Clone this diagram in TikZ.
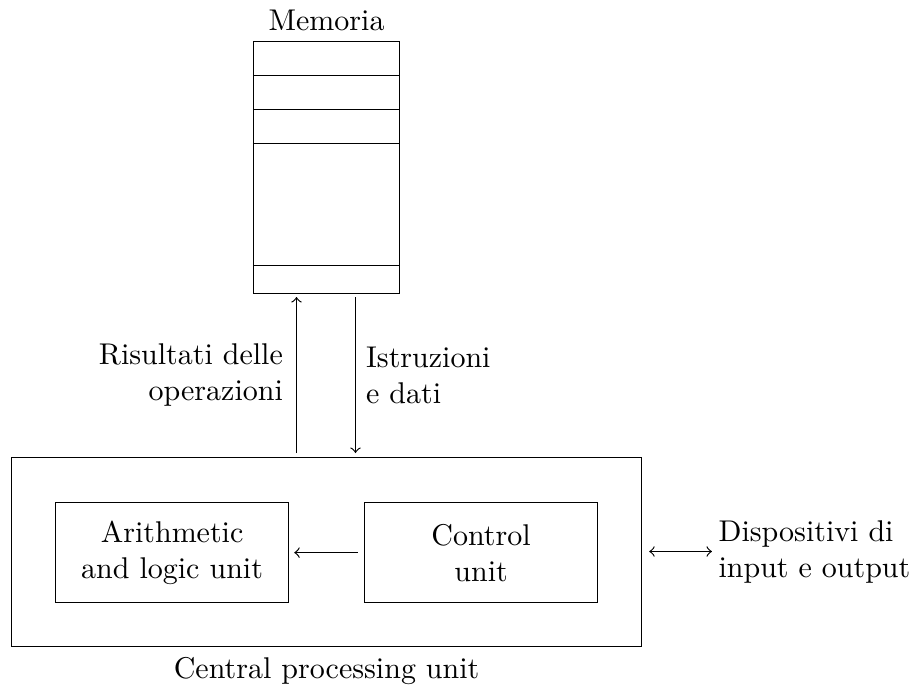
\documentclass[tikz,border=0pt]{standalone}
\usetikzlibrary{calc}
\begin{document}
\begin{tikzpicture}[x=0.3333pt,y=-0.3333pt,
  cell/.style={inner sep=0pt,minimum width=146*0.3333pt},
  unitbox/.style={draw,inner sep=0pt,minimum width=233*0.3333pt,minimum height=100*0.3333pt,align=center,anchor=north west},
  >=to]
\useasboundingbox (0,0) rectangle (909,686);
% Memory
\node[draw,inner sep=0pt,minimum width=146*0.3333pt,minimum height=252*0.3333pt,anchor=north west,
  label={[name=memlab]above:Memoria}] (mem) at (253,41) {};
\node[cell,minimum height=33*0.3333pt,anchor=north] (m1) at (mem.north) {};
\node[cell,minimum height=33*0.3333pt,anchor=north] (m2) at (m1.south) {};
\node[cell,minimum height=33*0.3333pt,anchor=north] (m3) at (m2.south) {};
\node[cell,minimum height=121*0.3333pt,anchor=north] (m4) at (m3.south) {};
\node[cell,minimum height=32*0.3333pt,anchor=north] (m5) at (m4.south) {};
\foreach \c in {m1,m2,m3,m4}{\draw (\c.south west) -- (\c.south east);}
% CPU
\node[draw,inner sep=0pt,minimum width=630*0.3333pt,minimum height=189*0.3333pt,anchor=north west,
  label={[name=cpulab]below:Central processing unit}] (cpu) at (11,457) {};
\node[unitbox] (alu) at (55,502) {Arithmetic\\and logic unit};
\node[unitbox] (cu) at (364,502) {Control\\unit};
\node[inner sep=2pt,align=left,anchor=west] (dev) at (712,551.5) {Dispositivi di\\input e output};
% memory arrows
\coordinate (mu) at (296.5,293);
\coordinate (md) at (355.5,293);
\coordinate (cu1) at (296.5,457);
\coordinate (cd) at (355.5,457);
\draw[->,shorten <=4*0.3333pt,shorten >=4*0.3333pt] (cu1) -- node[left,align=right,xshift=-1pt] {Risultati delle\\operazioni} (mu);
\draw[->,shorten <=4*0.3333pt,shorten >=4*0.3333pt] (md) -- node[right,align=left] {Istruzioni\\e dati} (cd);
\draw[->,shorten <=6*0.3333pt,shorten >=5*0.3333pt] (cu) -- (alu);
\draw[<->,shorten <=7*0.3333pt] (cpu.east |- dev.west) -- (dev.west);
\end{tikzpicture}
\end{document}
